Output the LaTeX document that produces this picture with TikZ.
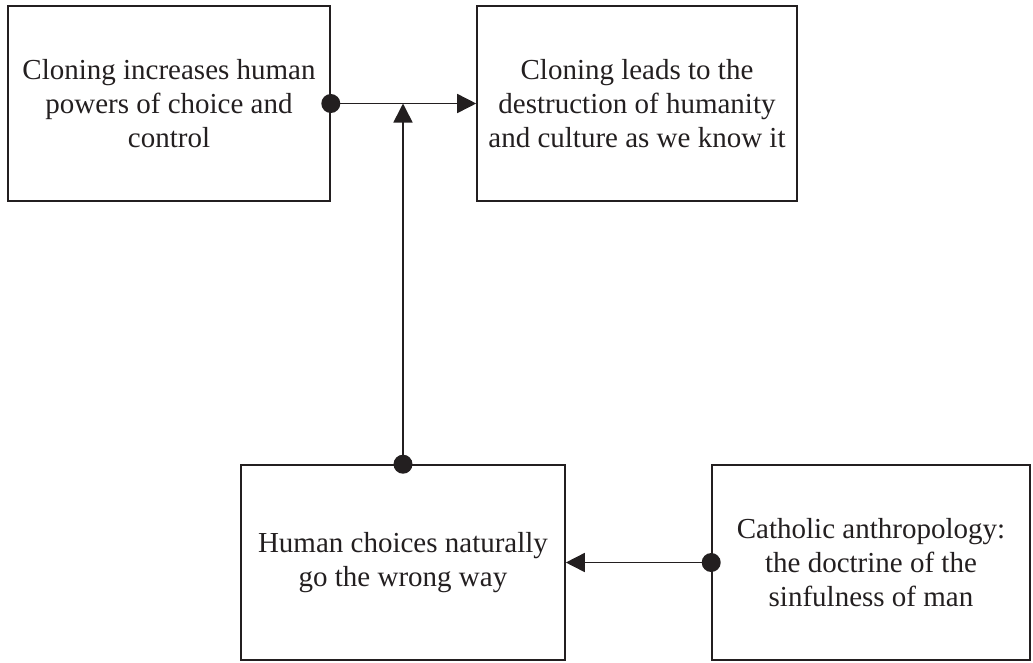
\documentclass[tikz,border=0pt]{standalone}
\usepackage{fontspec}
\setmainfont{Liberation Serif}
\usetikzlibrary{arrows.meta,calc}
\definecolor{ink}{HTML}{231F20}
\begin{document}
\begin{tikzpicture}[x=1pt,y=-1pt,
  box/.style={draw=ink,line width=1.6pt,rectangle,minimum width=322pt,minimum height=195pt,
    align=center,font=\fontsize{29}{34}\selectfont,text=ink,inner sep=0pt},
  link/.style={draw=ink,line width=1.6pt,-{Triangle[length=19pt,width=19pt]}},
  dot/.style={fill=ink}]
\useasboundingbox (0,0) rectangle (1033,662);
\node[box] (A) at (169,103.5) {Cloning increases human\\powers of choice and\\control};
\node[box,minimum width=320pt] (B) at (637,103.5) {Cloning leads to the\\destruction of humanity\\and culture as we know it};
\node[box,minimum width=324pt] (C) at (403,562.5) {Human choices naturally\\go the wrong way};
\node[box,minimum width=318pt] (D) at (871,562.5) {Catholic anthropology:\\the doctrine of the\\sinfulness of man};
\coordinate (m) at (C.north |- A.east);
\draw[link] (A.east) -- (B.west);
\draw[link] (C.north) -- (m);
\draw[link] (D.west) -- (C.east);
\fill[dot] (A.east) circle (9.5pt);
\fill[dot] (C.north) circle (9.5pt);
\fill[dot] (D.west) circle (9.5pt);
\end{tikzpicture}
\end{document}
